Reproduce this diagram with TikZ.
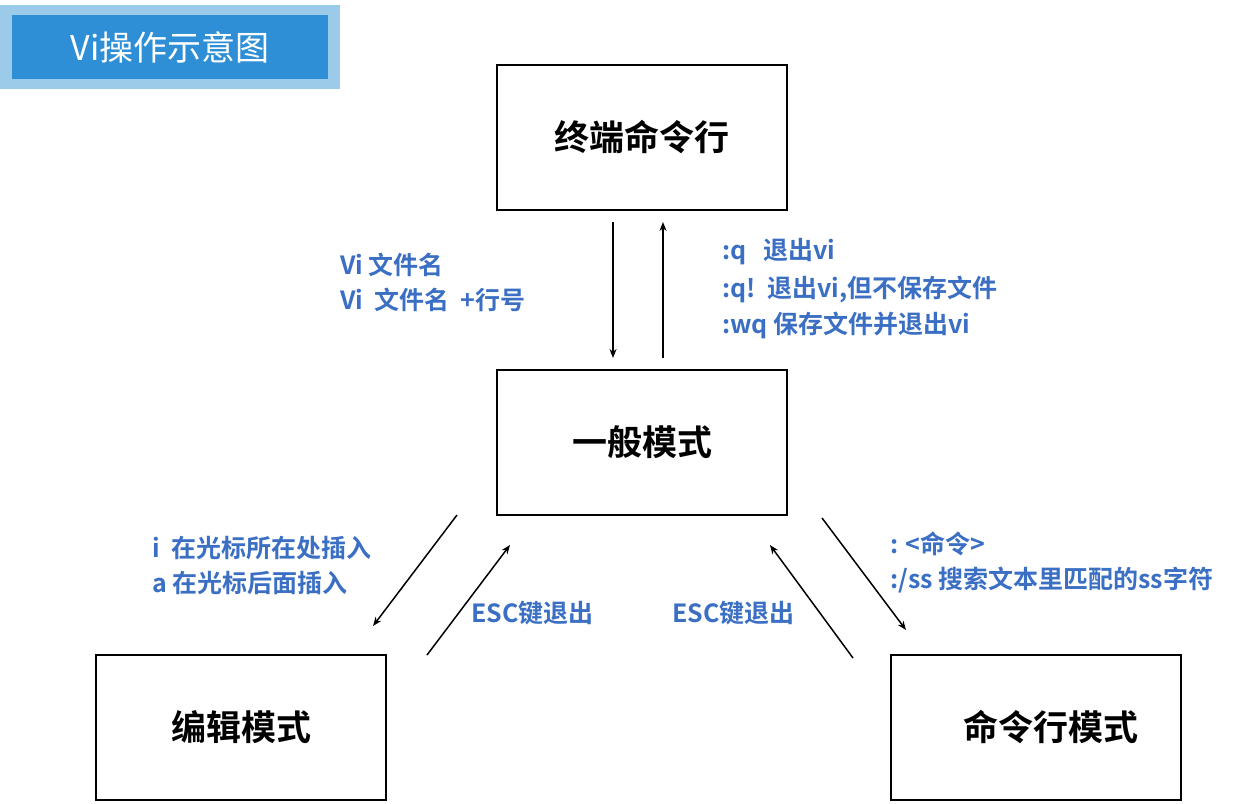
\documentclass[tikz,border=0pt]{standalone}
\usepackage{fontspec}
\setmainfont{Noto Sans CJK SC}[BoldFont={Noto Sans CJK SC Bold}]
\usetikzlibrary{arrows.meta}
\definecolor{lblue}{HTML}{3A6FC4}
\definecolor{tbox}{HTML}{2E8FD6}
\definecolor{tbord}{HTML}{9CCBEA}
\begin{document}
\begin{tikzpicture}[x=1pt,y=-1pt,
  modebox/.style={draw,line width=2pt,minimum width=290pt,minimum height=145pt,font=\fontsize{35}{40}\selectfont\bfseries},
  lbl/.style={text=lblue,font=\fontsize{25}{36}\selectfont\bfseries,anchor=west,inner sep=0pt},
  arr/.style={-{Stealth[length=9pt,width=7pt]},line width=1.5pt}]
\useasboundingbox (0,0) rectangle (1260,803);
\fill[white] (0,0) rectangle (1260,803);
\node[fill=tbord,minimum width=340pt,minimum height=84pt,inner sep=0pt] (tb) at (170,47) {};
\node[fill=tbox,minimum width=316pt,minimum height=64pt,text=white,font=\fontsize{34}{38}\selectfont] (title) at (170,47) {Vi操作示意图};
\node[modebox] (term) at (642,137) {终端命令行};
\node[modebox] (norm) at (642,442) {一般模式};
\node[modebox] (edit) at (241,727) {编辑模式};
\node[modebox] (cmd) at (1036,727) {\hspace*{30pt}命令行模式};
\coordinate (a1) at (613,222); \coordinate (a2) at (613,358);
\coordinate (b1) at (663,358); \coordinate (b2) at (663,222);
\draw[arr] (a1) -- (a2);
\draw[arr] (b1) -- (b2);
\coordinate (c1) at (457,515); \coordinate (c2) at (373,626);
\coordinate (d1) at (427,655); \coordinate (d2) at (510,545);
\coordinate (e1) at (853,658); \coordinate (e2) at (770,545);
\coordinate (f1) at (822,518); \coordinate (f2) at (906,630);
\draw[arr] (c1) -- (c2);
\draw[arr] (d1) -- (d2);
\draw[arr] (e1) -- (e2);
\draw[arr] (f1) -- (f2);
\node[lbl] (l1) at (340,265) {Vi 文件名};
\node[lbl] (l2) at (340,300) {Vi\ \ 文件名\ \ +行号};
\node[lbl] (l3) at (722,252) {:q\ \ \ 退出vi};
\node[lbl] (l4) at (722,289) {:q!\ \ 退出vi,但不保存文件};
\node[lbl] (l5) at (722,325) {:wq 保存文件并退出vi};
\node[lbl] (l6) at (152,548) {i\ \ 在光标所在处插入};
\node[lbl] (l7) at (152,583) {a 在光标后面插入};
\node[lbl] (l8) at (471,613) {ESC键退出};
\node[lbl] (l9) at (672,613) {ESC键退出};
\node[lbl] (l10) at (890,544) {: <命令>};
\node[lbl] (l11) at (890,580) {:/ss 搜索文本里匹配的ss字符};
\end{tikzpicture}
\end{document}
